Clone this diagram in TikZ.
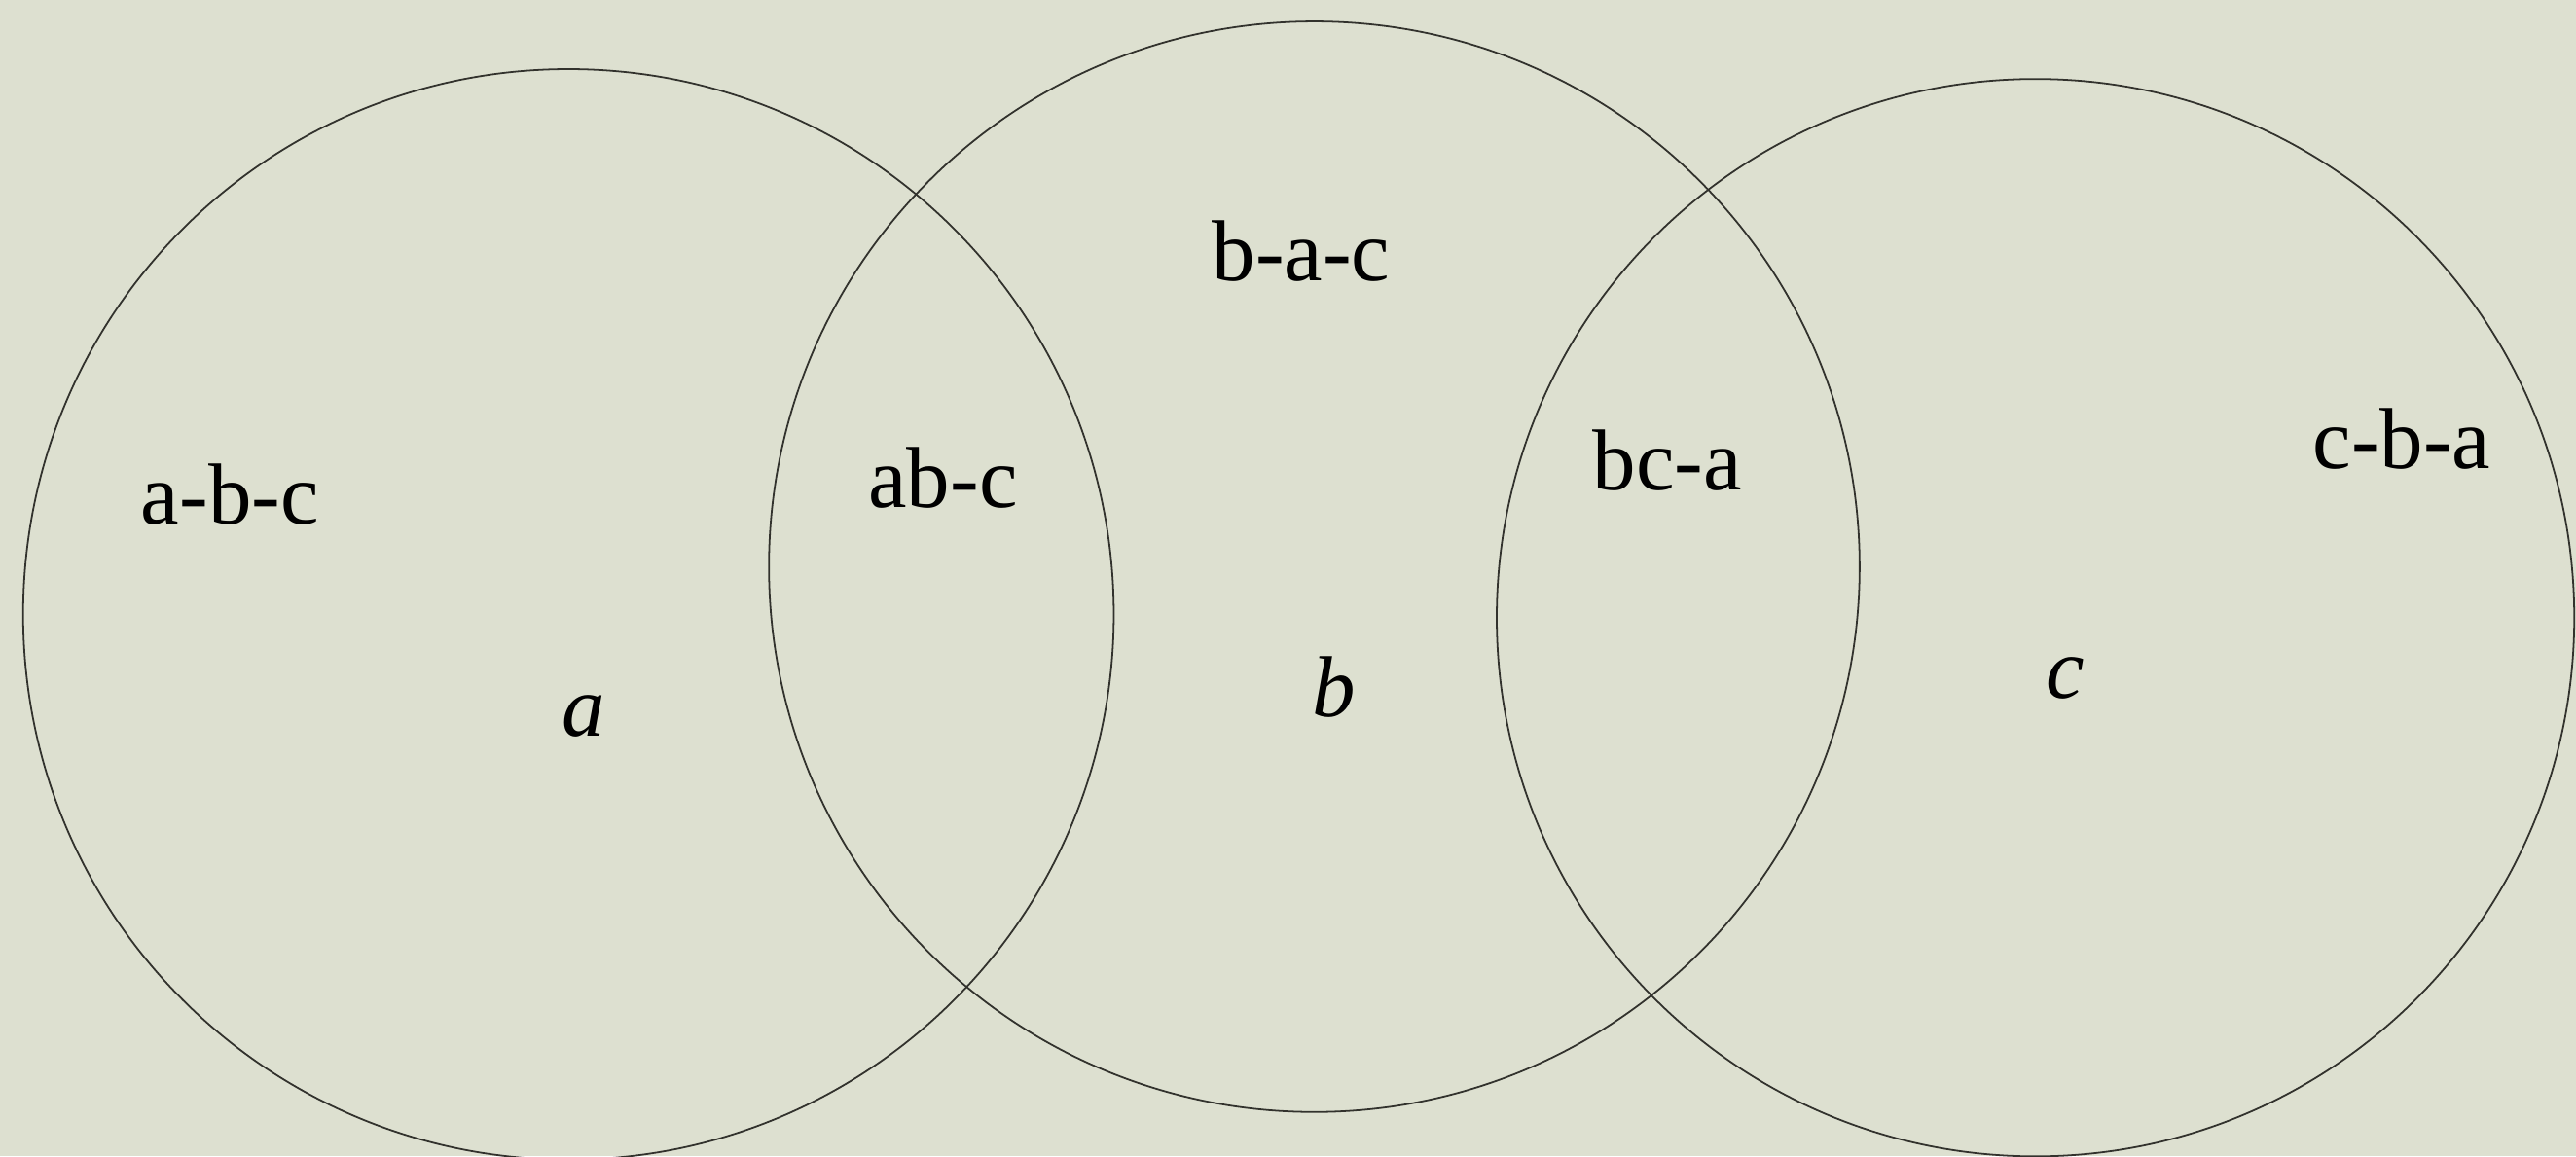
\documentclass[tikz,border=0pt]{standalone}
\usepackage{fontspec}
\setmainfont{Liberation Serif}
\usepackage{tikz}
\usetikzlibrary{positioning}
\definecolor{PaperTone}{RGB}{221, 224, 208}
\definecolor{InkGray}{RGB}{50, 50, 45}

\begin{document}
\begin{tikzpicture}[
    x=0.02cm, y=-0.02cm,
    venn/.style={circle, draw=InkGray, line width=0.6pt, inner sep=0pt},
    region/.style={anchor=base, text=black, font=\fontsize{30}{36}\selectfont, inner sep=0pt},
    setname/.style={anchor=base, text=black, font=\fontsize{30}{36}\selectfont\itshape, inner sep=0pt}
]
    % Fondo
    \useasboundingbox (0,0) rectangle (1568,704);
    \fill[PaperTone] (0,0) rectangle (1568,704);

    % Conjuntos
    \node[venn, minimum size=13.28cm] (setA) at (346,374) {};
    \node[venn, minimum size=13.28cm] (setB) at (800,345) {};
    \node[venn, minimum size=13.12cm] (setC) at (1239,376) {};

    % Regiones
    \node[region] (abc) at (140,319) {a-b-c};
    \node[region] (abminc) at (574,309) {ab-c};
    \node[region] (bac) at (792,171) {b-a-c};
    \node[region] (bcmina) at (1015,298) {bc-a};
    \node[region] (cba) at (1462,285) {c-b-a};

    % Nombres
    \node[setname] (nameA) at (355,448) {a};
    \node[setname] (nameB) at (812,436) {b};
    \node[setname] (nameC) at (1257,425) {c};
\end{tikzpicture}
\end{document}
